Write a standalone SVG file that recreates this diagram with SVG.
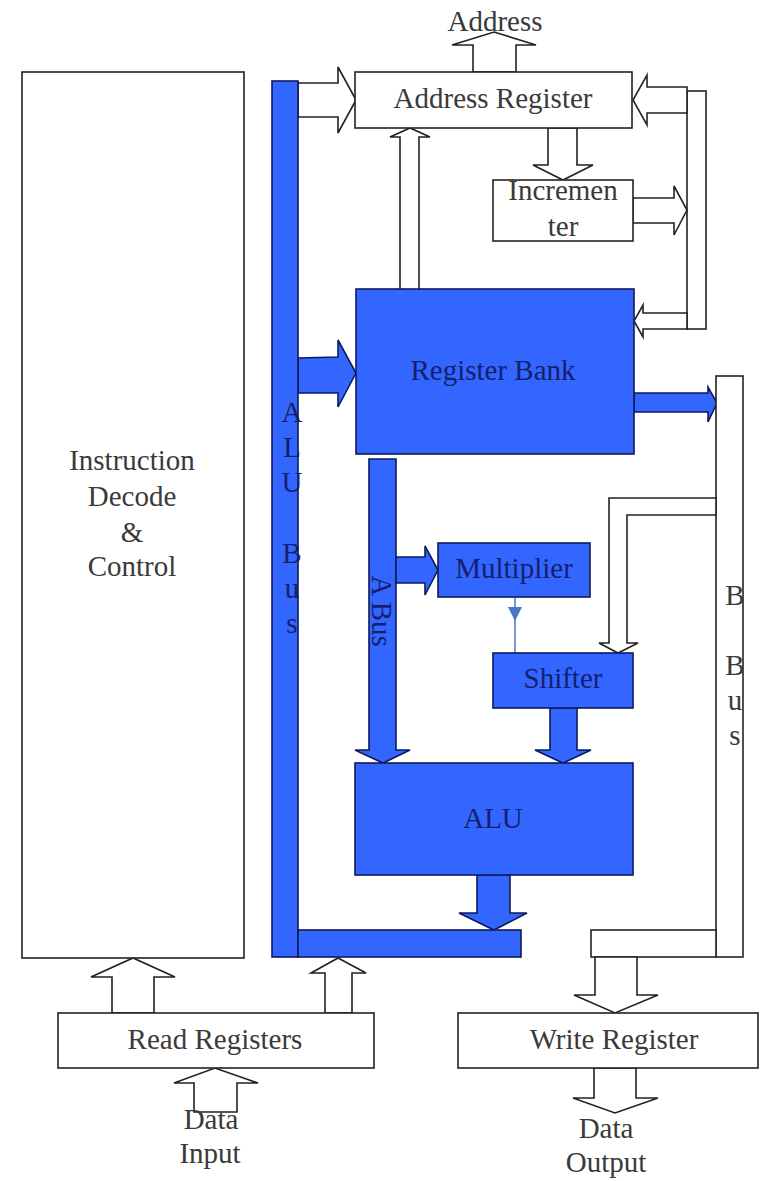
<svg xmlns="http://www.w3.org/2000/svg" width="760" height="1181" viewBox="0 0 760 1181">
<style>
.w{fill:#fff;stroke:#222;stroke-width:1.6}
.b{fill:#3366ff;stroke:#0d1a5c;stroke-width:1.6}
.t{font-family:"Liberation Serif","Times New Roman",serif;font-size:29px;fill:#3a3a3a;text-anchor:middle}
.tb{font-family:"Liberation Serif","Times New Roman",serif;font-size:29px;fill:#14206e;text-anchor:middle}
</style>
<rect width="760" height="1181" fill="#fff"/>
<g id="connectors">
<polygon class="w" points="473,72 473,45 452,45 494,32 536,45 516,45 516,72"/>
<polygon class="w" points="298,83 338,83 338,67 356,100 338,133 338,117 298,117"/>
<rect class="w" x="687" y="91" width="19" height="238"/>
<polygon class="w" points="687,87 647,87 647,75 633,100 647,125 647,113 687,113"/>
<polygon class="w" points="548,128 548,165 533,165 563,180 593,165 577,165 577,128"/>
<polygon class="w" points="633,198 674,198 674,186 687,210 674,235 674,223 633,223"/>
<polygon class="w" points="687,313 643,313 643,305 634,321 643,337 643,329 687,329"/>
<polygon class="w" points="400,293 400,137 390,137 410,128 430,137 419,137 419,293"/>
<polygon class="b" points="298,358 338,357 338,340 356,373 338,407 338,393 298,393"/>
<polygon class="b" points="634,393 708,393 708,387 717,403 708,422 708,412 634,412"/>
<rect class="w" x="716" y="376" width="27" height="581"/>
<polygon class="w" points="716,498 609,498 609,643 599,643 618,653 638,643 627,643 627,515 716,515"/>
<polygon class="b" points="369,459 396,459 396,750 410,750 383,763 355,750 369,750"/>
<polygon class="b" points="396,557 425,557 425,546 438,570 425,595 425,583 396,583"/>
<polygon class="b" points="550,708 550,750 535,750 563,763 591,750 577,750 577,708"/>
<polygon class="b" points="477,875 477,913 459,913 494,930 527,913 510,913 510,875"/>
<line x1="515" y1="597" x2="515" y2="653" stroke="#4a78c8" stroke-width="1.5"/>
<polygon points="508,607 522,607 515,621" fill="#4a78c8"/>
<rect class="b" x="272" y="81" width="26" height="876"/>
<rect class="b" x="298" y="930" width="223" height="27"/>
<rect class="w" x="591" y="930" width="125" height="27"/>
<polygon class="w" points="595,957 595,995 574,995 615,1013 658,995 637,995 637,957"/>
<polygon class="w" points="112,1013 112,977 91,977 133,958 175,977 154,977 154,1013"/>
<polygon class="w" points="325,1013 325,973 311,973 338,958 366,973 352,973 352,1013"/>
<polygon class="w" points="194,1112 194,1083 174,1083 215,1068 258,1083 237,1083 237,1112"/>
<polygon class="w" points="594,1068 594,1098 573,1098 615,1113 658,1098 636,1098 636,1068"/>
</g>
<g id="instruction-decode">
<rect class="w" x="22" y="72" width="222" height="886"/>
<text class="t" x="132" y="470">Instruction</text>
<text class="t" x="132" y="506">Decode</text>
<text class="t" x="132" y="542">&amp;</text>
<text class="t" x="132" y="576">Control</text>
</g>
<g id="alu-bus-label">
<text class="tb" x="292" y="422">A</text>
<text class="tb" x="292" y="457">L</text>
<text class="tb" x="292" y="492">U</text>
<text class="tb" x="292" y="563">B</text>
<text class="tb" x="292" y="598">u</text>
<text class="tb" x="292" y="633">s</text>
</g>
<g id="address-label">
<text class="t" x="495" y="31">Address</text>
</g>
<g id="address-register">
<rect class="w" x="355" y="72" width="277" height="56"/>
<text class="t" x="493" y="108">Address Register</text>
</g>
<g id="incrementer">
<rect class="w" x="493" y="180" width="140" height="61"/>
<text class="t" x="563" y="200">Incremen</text>
<text class="t" x="563" y="236">ter</text>
</g>
<g id="register-bank">
<rect class="b" x="356" y="289" width="278" height="165"/>
<text class="tb" x="493" y="380">Register Bank</text>
</g>
<g id="a-bus-label">
<text class="tb" x="0" y="0" transform="translate(372,611) rotate(90)">A Bus</text>
</g>
<g id="multiplier">
<rect class="b" x="438" y="543" width="152" height="54"/>
<text class="tb" x="514" y="578">Multiplier</text>
</g>
<g id="shifter">
<rect class="b" x="493" y="653" width="140" height="55"/>
<text class="tb" x="563" y="688">Shifter</text>
</g>
<g id="alu">
<rect class="b" x="355" y="763" width="278" height="112"/>
<text class="tb" x="493" y="828">ALU</text>
</g>
<g id="b-bus-label">
<text class="t" x="735" y="605">B</text>
<text class="t" x="735" y="675">B</text>
<text class="t" x="735" y="710">u</text>
<text class="t" x="735" y="745">s</text>
</g>
<g id="read-registers">
<rect class="w" x="58" y="1013" width="316" height="55"/>
<text class="t" x="215" y="1049">Read Registers</text>
</g>
<g id="write-register">
<rect class="w" x="458" y="1013" width="300" height="55"/>
<text class="t" x="614" y="1049">Write Register</text>
</g>
<g id="data-input">
<text class="t" x="211" y="1129">Data</text>
<text class="t" x="210" y="1163">Input</text>
</g>
<g id="data-output">
<text class="t" x="606" y="1138">Data</text>
<text class="t" x="606" y="1172">Output</text>
</g>
</svg>
